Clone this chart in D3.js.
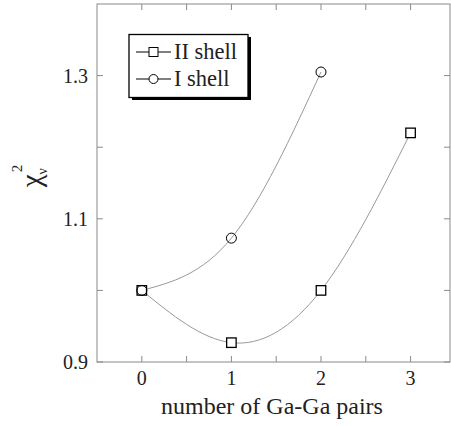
<!DOCTYPE html>
<html>
<head>
<meta charset="utf-8">
<script src="https://cdn.jsdelivr.net/npm/d3@7"></script>
<style>
  body { margin: 0; background: #fff; }
  text { font-family: "Liberation Serif", "DejaVu Serif", serif; fill: #222; }
</style>
</head>
<body>
<svg id="chart" width="451" height="426"></svg>
<script>
// data
const pairs = [0, 1, 2, 3];
const shell2 = [1.0, 0.927, 1.0, 1.22];
const shell1 = [1.0, 1.073, 1.305];
const seriesNames = ["II shell", "I shell"];
const yTickLabels = [0.9, 1.1, 1.3];
const yMinorTicks = [1.0, 1.2];
const xMinorTicks = [0.5, 1.5, 2.5];

// frame
const plotLeft = 97, plotRight = 450, plotTop = 4, plotBottom = 362;
const svg = d3.select("#chart");

const x = d3.scaleLinear().domain([-0.5, 3.44]).range([plotLeft, plotRight]);
const y = d3.scaleLinear().domain([0.9, 1.4]).range([plotBottom, plotTop]);

const frameColor = "#8a8a8a";
const tickLen = 6;

// frame lines
svg.append("rect")
  .attr("x", plotLeft).attr("y", plotTop)
  .attr("width", plotRight - plotLeft).attr("height", plotBottom - plotTop)
  .attr("fill", "none").attr("stroke", frameColor).attr("stroke-width", 1);

// ticks (inward, on all four sides)
const allX = pairs.concat(xMinorTicks);
const allY = yTickLabels.concat(yMinorTicks);
const tickG = svg.append("g").attr("stroke", frameColor).attr("stroke-width", 1);
allX.forEach(function (v) {
  tickG.append("line").attr("x1", x(v)).attr("x2", x(v)).attr("y1", plotBottom).attr("y2", plotBottom - tickLen);
  tickG.append("line").attr("x1", x(v)).attr("x2", x(v)).attr("y1", plotTop).attr("y2", plotTop + tickLen);
});
allY.forEach(function (v) {
  tickG.append("line").attr("x1", plotLeft).attr("x2", plotLeft + tickLen).attr("y1", y(v)).attr("y2", y(v));
  tickG.append("line").attr("x1", plotRight).attr("x2", plotRight - tickLen).attr("y1", y(v)).attr("y2", y(v));
});

// tick labels
svg.selectAll(".xlab").data(pairs).enter().append("text")
  .attr("class", "xlab")
  .attr("x", d => x(d)).attr("y", 385)
  .attr("text-anchor", "middle")
  .style("font-size", "20px")
  .text(d => d);

svg.selectAll(".ylab").data(yTickLabels).enter().append("text")
  .attr("class", "ylab")
  .attr("x", 88).attr("y", d => y(d) + 7)
  .attr("text-anchor", "end")
  .style("font-size", "20px")
  .text(d => d3.format(".1f")(d));

// axis titles
svg.append("text")
  .attr("x", 272).attr("y", 414)
  .attr("text-anchor", "middle")
  .style("font-size", "24px")
  .text("number of Ga-Ga pairs");

const ytitle = svg.append("text")
  .attr("transform", "translate(41,176) rotate(-90)")
  .attr("text-anchor", "middle")
  .style("font-size", "29px");
ytitle.append("tspan").text("\u03c7");
ytitle.append("tspan").attr("dy", 6).style("font-size", "14px").text("\u03bd");
ytitle.append("tspan").attr("dy", -25).attr("dx", -4).style("font-size", "15px").text("2");

// curves
const line = d3.line()
  .x(d => x(d[0]))
  .y(d => y(d[1]))
  .curve(d3.curveNatural);

const data2 = pairs.map((p, i) => [p, shell2[i]]);
const data1 = shell1.map((v, i) => [pairs[i], v]);

[data2, data1].forEach(function (d) {
  svg.append("path")
    .attr("d", line(d))
    .attr("fill", "none")
    .attr("stroke", "#999")
    .attr("stroke-width", 1);
});

// markers
const sq = 9.5;
svg.selectAll(".sq").data(data2).enter().append("rect")
  .attr("class", "sq")
  .attr("x", d => x(d[0]) - sq / 2).attr("y", d => y(d[1]) - sq / 2)
  .attr("width", sq).attr("height", sq)
  .attr("fill", "#fff").attr("stroke", "#000").attr("stroke-width", 1.3);

svg.selectAll(".ci").data(data1).enter().append("circle")
  .attr("class", "ci")
  .attr("cx", d => x(d[0])).attr("cy", d => y(d[1]))
  .attr("r", 5)
  .attr("fill", "none").attr("stroke", "#000").attr("stroke-width", 1);

// legend
const lg = svg.append("g");
lg.append("rect").attr("x", 132).attr("y", 37).attr("width", 119).attr("height", 63).attr("fill", "#000");
lg.append("rect").attr("x", 129).attr("y", 34.5).attr("width", 119).attr("height", 63)
  .attr("fill", "#fff").attr("stroke", "#000").attr("stroke-width", 1.3);

const rows = [52, 79];
seriesNames.forEach(function (name, i) {
  const cy = rows[i];
  lg.append("line").attr("x1", 136).attr("x2", 171).attr("y1", cy).attr("y2", cy)
    .attr("stroke", "#000").attr("stroke-width", 1);
  if (i === 0) {
    lg.append("rect").attr("x", 153.5 - 4.5).attr("y", cy - 4.5).attr("width", 9).attr("height", 9)
      .attr("fill", "#fff").attr("stroke", "#000").attr("stroke-width", 1);
  } else {
    lg.append("circle").attr("cx", 153.5).attr("cy", cy).attr("r", 4.5)
      .attr("fill", "#fff").attr("stroke", "#000").attr("stroke-width", 1);
  }
  lg.append("text").attr("x", 174).attr("y", cy + 7)
    .style("font-size", "22.5px")
    .text(name);
});
</script>
</body>
</html>
